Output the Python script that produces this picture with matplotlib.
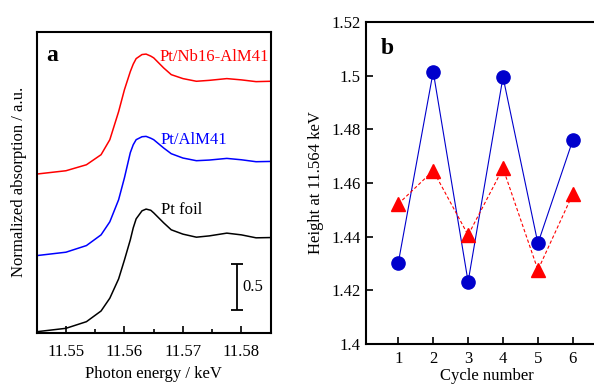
import matplotlib
matplotlib.use("Agg")
import matplotlib.pyplot as plt
from matplotlib.ticker import MultipleLocator, FuncFormatter

plt.rcParams['font.family'] = ['Liberation Serif', 'DejaVu Serif']

# --- panel a: normalized XANES spectra (edge step ~ 1) ---
energy = [11.545, 11.550, 11.5535, 11.556, 11.5575, 11.559, 11.560, 11.561,
          11.5615, 11.562, 11.563, 11.5637, 11.5645, 11.565, 11.5667, 11.568,
          11.570, 11.5723, 11.5745, 11.5775, 11.580, 11.5825, 11.585]
pt_foil = [0.014, 0.051, 0.123, 0.239, 0.378, 0.587, 0.793, 1.011, 1.141,
           1.239, 1.326, 1.345, 1.332, 1.304, 1.196, 1.120, 1.073, 1.040,
           1.054, 1.084, 1.065, 1.033, 1.036]
pt_alm41 = [0.020, 0.057, 0.129, 0.245, 0.387, 0.626, 0.865, 1.137, 1.223,
            1.278, 1.310, 1.314, 1.294, 1.278, 1.188, 1.126, 1.079, 1.050,
            1.057, 1.075, 1.060, 1.039, 1.042]
pt_nb16 = [0.025, 0.061, 0.126, 0.235, 0.398, 0.702, 0.941, 1.137, 1.218,
           1.278, 1.322, 1.327, 1.305, 1.286, 1.177, 1.104, 1.061, 1.032,
           1.042, 1.061, 1.047, 1.028, 1.032]
offsets = [0.0, 0.82, 1.70]
names = ['Pt foil', 'Pt/AlM41', 'Pt/Nb16-AlM41']
colors_a = ['black', '#0000ff', '#ff0000']

# --- panel b: peak height vs cycle ---
cycles = [1, 2, 3, 4, 5, 6]
height_circle = [1.4303, 1.5015, 1.4232, 1.4995, 1.4375, 1.4760]
height_triangle = [1.4522, 1.4646, 1.4406, 1.4655, 1.4276, 1.4559]

fig = plt.figure(figsize=(5.94, 3.87), dpi=100)

# panel a
ax1 = fig.add_axes([0.0618, 0.1395, 0.3939, 0.7786])
for spec, off, c in zip([pt_foil, pt_alm41, pt_nb16], offsets, colors_a):
    ax1.plot(energy, [v + off for v in spec], color=c, lw=1.1)
ax1.set_xlim(11.545, 11.585)
ax1.set_ylim(0, 3.27)
ax1.set_yticks([])
ax1.xaxis.set_major_locator(MultipleLocator(0.01))
ax1.xaxis.set_minor_locator(MultipleLocator(0.005))
ax1.xaxis.set_major_formatter(FuncFormatter(lambda v, p: '%.2f' % v))
ax1.tick_params(axis='x', which='major', direction='in', length=5, width=1.2,
                labelsize=12, pad=8)
ax1.tick_params(axis='x', which='minor', direction='in', length=3, width=1.2)
for s in ax1.spines.values():
    s.set_linewidth(1.5)
ax1.set_xlabel('Photon energy / keV', fontsize=12, labelpad=4)
ax1.set_ylabel('Normalized absorption / a.u.', fontsize=12, labelpad=7)
ax1.text(0.04, 0.955, 'a', transform=ax1.transAxes, fontsize=17,
         fontweight='bold', va='top', ha='left')
ax1.text(11.5660, 2.99, names[2], color='#ff0000', fontsize=12, va='center')
ax1.text(11.5661, 2.10, names[1], color='#0000ff', fontsize=12, va='center')
ax1.text(11.5662, 1.33, names[0], color='black', fontsize=12, va='center')
# scale bar
ax1.errorbar([11.5792], [0.5], yerr=[0.25], color='black', lw=1.3,
             capsize=4.5, capthick=1.3)
ax1.text(11.5801, 0.5, '0.5', fontsize=12, va='center', ha='left')

# panel b
ax2 = fig.add_axes([0.6162, 0.1111, 0.4069, 0.8320])
ax2.plot(cycles, height_circle, color='#0000cc', lw=0.8, marker='o',
         markersize=9.5, markerfacecolor='#0000cc', markeredgecolor='#0000cc')
ax2.plot(cycles, height_triangle, color='#ff0000', lw=0.8, ls=(0, (3, 2)),
         marker='^', markersize=9.5, markerfacecolor='#ff0000',
         markeredgecolor='#ff0000')
ax2.set_xlim(0.075, 7.0)
ax2.set_ylim(1.4, 1.52)
ax2.set_xticks(cycles)
ax2.yaxis.set_major_locator(MultipleLocator(0.02))
ax2.yaxis.set_major_formatter(FuncFormatter(lambda v, p: '%g' % round(v, 2)))
ax2.tick_params(direction='in', length=5, width=1.2, labelsize=12)
ax2.tick_params(axis='x', pad=5)
ax2.tick_params(axis='y', pad=4)
for s in ax2.spines.values():
    s.set_linewidth(1.5)
ax2.set_xlabel('Cycle number', fontsize=12, labelpad=1)
ax2.set_ylabel('Height at 11.564 keV', fontsize=12, labelpad=5)
ax2.text(0.06, 0.95, 'b', transform=ax2.transAxes, fontsize=17,
         fontweight='bold', va='top', ha='left')

fig.savefig('out.png', dpi=100)
